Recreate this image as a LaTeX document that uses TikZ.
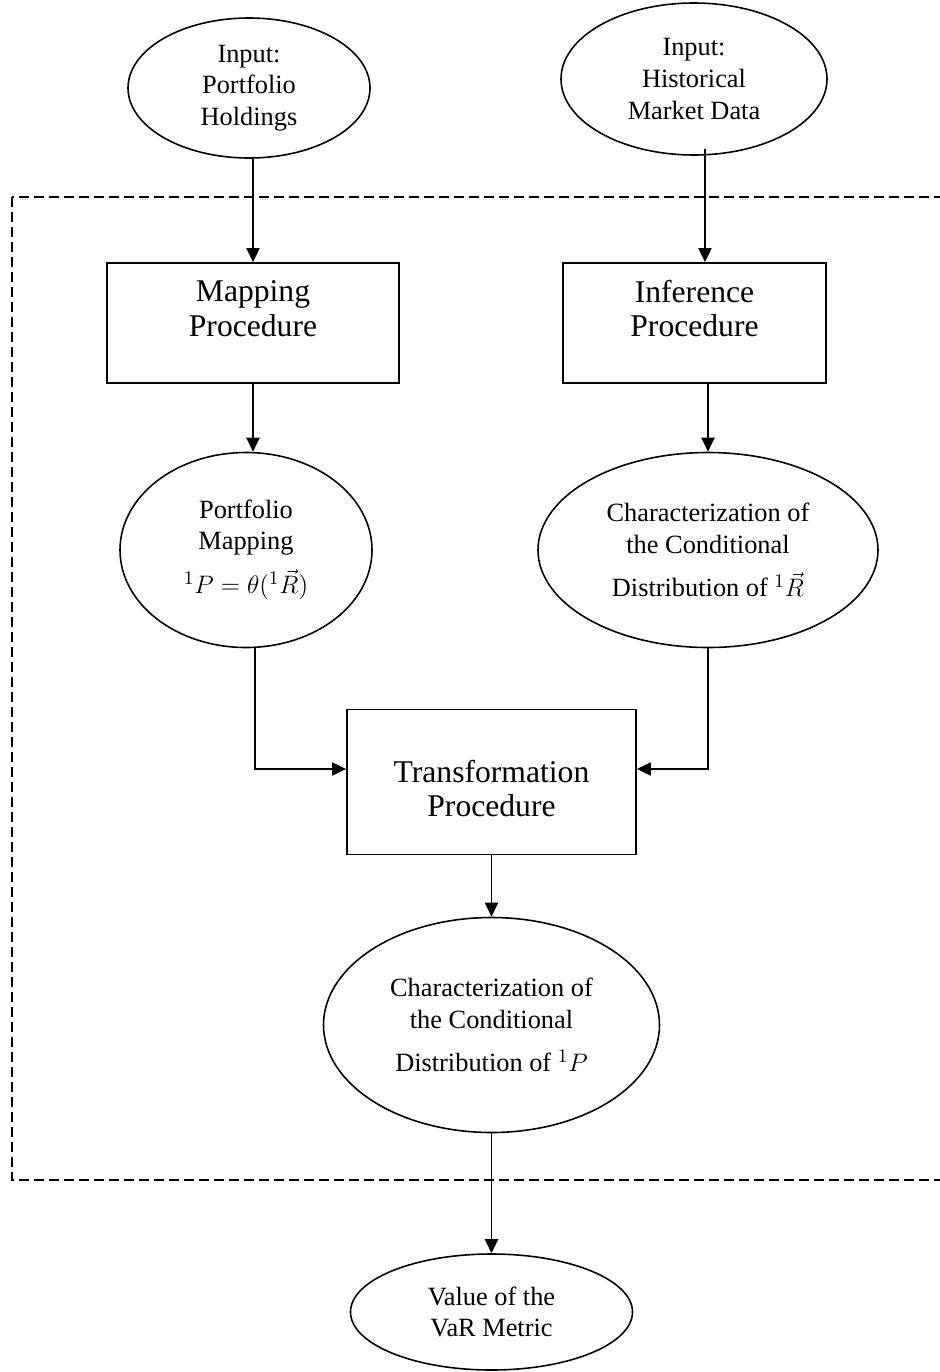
\documentclass[tikz,border=0pt]{standalone}
\usepackage{fontspec}
\setmainfont{Liberation Serif}
\usetikzlibrary{arrows.meta, positioning, shapes.geometric}
\tikzset{
  every picture/.style={line width=1pt},
  procbox/.style={draw, rectangle, align=center, inner sep=4pt, font=\fontsize{18}{19.5}\selectfont},
  datanode/.style={draw, ellipse, align=center, inner sep=1pt, line width=0.9pt, font=\fontsize{15}{18}\selectfont},
  arrow/.style={-{Triangle[length=0.28cm, width=0.26cm]}, line width=1.1pt},
  region/.style={draw, line width=1.1pt, dash pattern=on 0.2cm off 0.1cm},
}

\begin{document}
\begin{tikzpicture}
  \useasboundingbox (0,0) rectangle (18.8,-27.44);
  % the dashed region round the procedures
  \draw[region] (0.24,-3.94) rectangle (19.3,-23.6);
  \node[datanode, minimum width=4.84cm, minimum height=2.8cm] (holdings) at (4.98,-1.76) {Input:\\Portfolio\\Holdings};
  \node[datanode, minimum width=5.32cm, minimum height=3.04cm] (market) at (13.88,-1.58) {Input:\\Historical\\Market Data};
  \node[procbox, minimum width=5.84cm, minimum height=2.4cm, text depth=0.58cm] (mapproc) at (5.06,-6.46) {Mapping\\Procedure};
  \node[procbox, minimum width=5.26cm, minimum height=2.4cm, text depth=0.58cm] (infproc) at (13.89,-6.46) {Inference\\Procedure};
  \node[datanode, minimum width=5.04cm, minimum height=3.9cm] (pmap) at (4.92,-11.0) {Portfolio\\Mapping\\[7pt]${}^{1}P=\theta({}^{1}\vec{R})$};
  \node[datanode, minimum width=6.8cm, minimum height=3.9cm] (charr) at (14.16,-11.0) {Characterization of\\the Conditional\\[7pt]Distribution of ${}^{1}\vec{R}$};
  \node[procbox, minimum width=5.78cm, minimum height=2.9cm, text height=1.4cm] (trans) at (9.83,-15.64) {Transformation\\Procedure};
  \node[datanode, minimum width=6.72cm, minimum height=4.3cm] (charp) at (9.83,-20.5) {Characterization of\\the Conditional\\[7pt]Distribution of ${}^{1}P$};
  \node[datanode, minimum width=5.64cm, minimum height=2.32cm] (var) at (9.83,-26.24) {Value of the\\VaR Metric};
  \draw[arrow] ([xshift=0.08cm]holdings.south) -- (mapproc.north);
  \draw[arrow] ([xshift=0.22cm, yshift=0.14cm]market.south) -- ([xshift=0.21cm]infproc.north);
  \draw[arrow] (mapproc.south) -- ([xshift=0.14cm]pmap.north);
  \draw[arrow] ([xshift=0.27cm]infproc.south) -- (charr.north);
  \draw[arrow] ([xshift=0.18cm]pmap.south) |- ([yshift=0.26cm]trans.west);
  \draw[arrow] (charr.south) |- ([yshift=0.26cm]trans.east);
  \draw[arrow] (trans.south) -- (charp.north);
  \draw[arrow] (charp.south) -- (var.north);
\end{tikzpicture}
\end{document}
